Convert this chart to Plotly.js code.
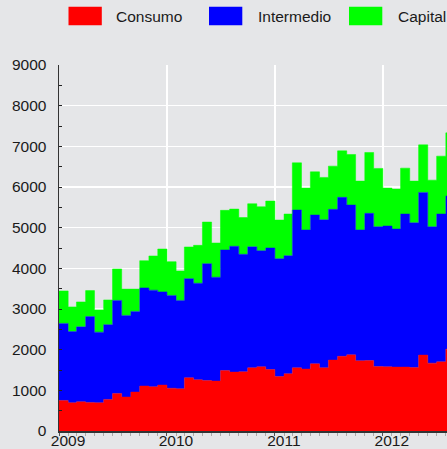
<!DOCTYPE html>
<html>
<head>
<meta charset="utf-8">
<script src="https://cdn.plot.ly/plotly-3.0.1.min.js"></script>
<style>
  html, body { margin: 0; padding: 0; background: #e5e5e5; overflow: hidden; }
  #chart { width: 447px; height: 449px; }
</style>
</head>
<body>
<div id="chart"></div>
<script>
// Monthly series, January 2009 onward
const startYear = 2009;
const startMonth = 1;
const seriesNames = ["Consumo", "Intermedio", "Capital"];
const seriesColors = ["#ff0000", "#0000ff", "#00ff00"];

const consumo = [751, 695, 719, 702, 695, 776, 923, 835, 957, 1105, 1088, 1129,
                 1051, 1038, 1309, 1259, 1242, 1228, 1488, 1448, 1456, 1554, 1579, 1512,
                 1340, 1407, 1554, 1522, 1652, 1554, 1743, 1836, 1873, 1726, 1733, 1586,
                 1579, 1571, 1571, 1561, 1866, 1669, 1701, 2013];
const intermedio = [1895, 1750, 1842, 2111, 1735, 1839, 2288, 2008, 1984, 2413, 2374, 2291,
                    2283, 2173, 2437, 2374, 2873, 2553, 2963, 3094, 2889, 2975, 2855, 2988,
                    2897, 2904, 3879, 3420, 3658, 3641, 3707, 3909, 3683, 3216, 3619, 3437,
                    3461, 3395, 3764, 3560, 4001, 3354, 3634, 3764];
const capital = [798, 607, 613, 639, 548, 608, 773, 646, 548, 670, 842, 1055,
                 830, 724, 779, 933, 1023, 842, 975, 915, 904, 1059, 1080, 1154,
                 950, 1024, 1161, 1031, 1063, 1041, 1063, 1144, 1244, 1203, 1497, 1434,
                 933, 982, 1129, 1024, 1169, 1146, 1424, 1554];

const yTickVals = [0, 1000, 2000, 3000, 4000, 5000, 6000, 7000, 8000, 9000];

function monthDate(i) {
  const m = startMonth - 1 + i;
  const y = startYear + Math.floor(m / 12);
  const mm = (m % 12) + 1;
  return y + "-" + String(mm).padStart(2, "0") + "-01";
}

// step ("hv") needs one closing point so the last month is drawn as a full step
function stepX(vals) { return vals.map((_, i) => monthDate(i)).concat([monthDate(vals.length)]); }
function stepY(vals) { return vals.concat([vals[vals.length - 1]]); }

const allSeries = [consumo, intermedio, capital];
const traces = allSeries.map((vals, k) => ({
  type: "scatter",
  mode: "lines",
  name: seriesNames[k],
  x: stepX(vals),
  y: stepY(vals),
  stackgroup: "one",
  line: { shape: "hv", width: 0.5, color: seriesColors[k] },
  fillcolor: seriesColors[k],
  showlegend: false,
  hoverinfo: "x+y+name"
}));

// Plot geometry (pixels)
const W = 447, H = 449;
const mL = 59, mR = 0, mT = 65, mB = 17.5;
const pw = W - mL - mR, ph = H - mT - mB;
const px2x = p => (p - mL) / pw;
const px2y = p => (H - mB - p) / ph;

// Legend drawn as paper shapes + text
const legendBoxX = [68.5, 209, 349];
const legendTextX = [114, 256, 395.5];
const legendBoxTop = 6.7, legendBoxBot = 25.3, legendMid = 16;
const shapes = [];
const annotations = [];
seriesNames.forEach((n, k) => {
  shapes.push({
    type: "rect", xref: "paper", yref: "paper",
    x0: px2x(legendBoxX[k]), x1: px2x(legendBoxX[k] + 33.3),
    y0: px2y(legendBoxBot), y1: px2y(legendBoxTop),
    fillcolor: seriesColors[k], line: { width: 0 }, layer: "above"
  });
  annotations.push({
    xref: "paper", yref: "paper",
    x: px2x(legendTextX[k]), y: px2y(legendMid),
    xanchor: "left", yanchor: "middle",
    text: n, showarrow: false,
    font: { family: "Liberation Sans, Arial, sans-serif", size: 15.5, color: "#1a1a1a" }
  });
});

const layout = {
  width: W, height: H,
  margin: { l: mL, r: mR, t: mT, b: mB, pad: 0 },
  paper_bgcolor: "#e5e6e8",
  plot_bgcolor: "#e5e6e8",
  font: { family: "Liberation Sans, Arial, sans-serif", size: 15.5, color: "#1a1a1a" },
  showlegend: false,
  xaxis: {
    type: "date",
    range: ["2009-01-01", "2012-08-05"],
    dtick: "M12",
    tick0: "2009-01-01",
    tickformat: "%Y",
    ticklabelshift: 9,
    ticklabelstandoff: -8,
    showgrid: true, gridcolor: "#ffffff", gridwidth: 1.5,
    showline: true, linecolor: "#333333", linewidth: 1.5,
    ticks: "outside", ticklen: 3, tickcolor: "#555555",
    minor: { dtick: "M1", tick0: "2009-01-01", ticks: "outside", ticklen: 3, tickcolor: "#aaaaaa", showgrid: false },
    zeroline: false,
    automargin: false,
    fixedrange: true
  },
  yaxis: {
    range: [0, 9000],
    tickvals: yTickVals,
    showgrid: true, gridcolor: "#ffffff", gridwidth: 1.5,
    showline: true, linecolor: "#333333", linewidth: 1.5,
    ticks: "inside", ticklen: 3, tickcolor: "#222222",
    minor: { dtick: 500, ticks: "inside", ticklen: 3, tickcolor: "#222222", showgrid: false },
    zeroline: false,
    automargin: false,
    ticklabelstandoff: 8,
    fixedrange: true
  },
  shapes: shapes,
  annotations: annotations
};

Plotly.newPlot("chart", traces, layout, { displayModeBar: false, staticPlot: true });
</script>
</body>
</html>
